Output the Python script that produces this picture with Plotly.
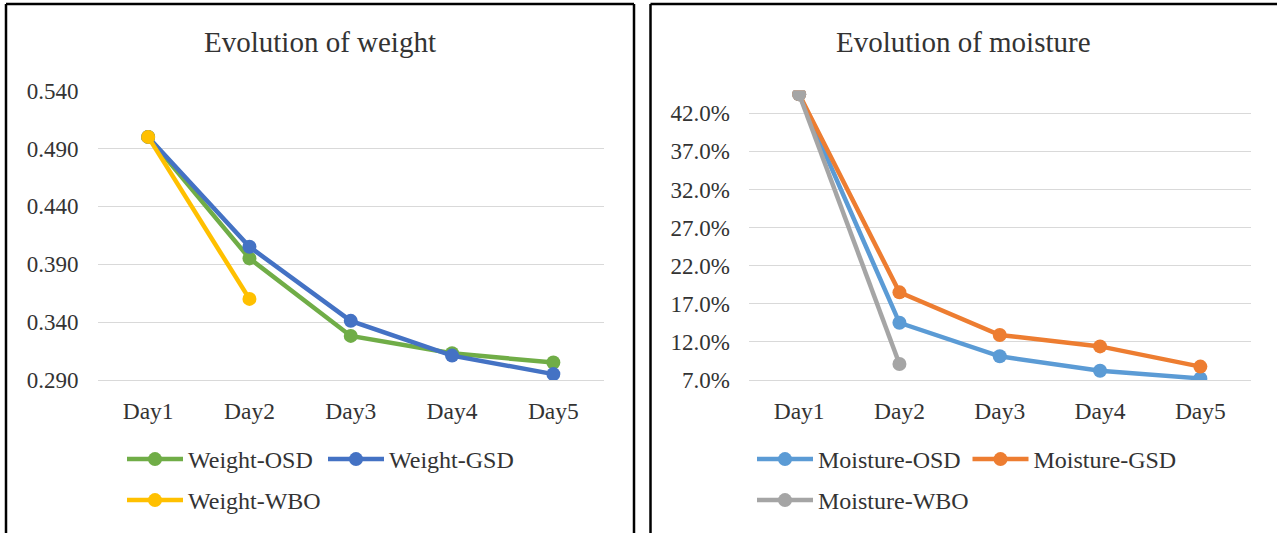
import plotly.graph_objects as go

W, H = 1277, 533

days = ["Day1", "Day2", "Day3", "Day4", "Day5"]

weight_osd = [0.500, 0.395, 0.328, 0.313, 0.305]
weight_gsd = [0.500, 0.405, 0.341, 0.311, 0.295]
weight_wbo = [0.500, 0.360]

moist_osd = [0.445, 0.145, 0.101, 0.082, 0.072]
moist_gsd = [0.445, 0.185, 0.129, 0.114, 0.0875]
moist_wbo = [0.445, 0.091]

weight_ticks = [0.29, 0.34, 0.39, 0.44, 0.49, 0.54]
moist_ticks = [0.07, 0.12, 0.17, 0.22, 0.27, 0.32, 0.37, 0.42]

FONT = "Liberation Serif"
TXT = "#333333"


def px(x):
    return x / W


def py(y):
    return 1 - y / H


fig = go.Figure()

series = [
    ("Weight-OSD", weight_osd, "#70AD47", "x", "y", "legend"),
    ("Weight-GSD", weight_gsd, "#4472C4", "x", "y", "legend2"),
    ("Weight-WBO", weight_wbo, "#FFC000", "x", "y", "legend3"),
    ("Moisture-OSD", moist_osd, "#5B9BD5", "x2", "y2", "legend4"),
    ("Moisture-GSD", moist_gsd, "#ED7D31", "x2", "y2", "legend5"),
    ("Moisture-WBO", moist_wbo, "#A5A5A5", "x2", "y2", "legend6"),
]
for name, vals, col, xa, ya, lg in series:
    fig.add_trace(go.Scatter(
        x=days[:len(vals)], y=vals, name=name, mode="lines+markers",
        line=dict(color=col, width=4.5), marker=dict(color=col, size=14),
        xaxis=xa, yaxis=ya, legend=lg, hoverinfo="x+y"))

ydom = [py(380), py(90.5)]
axis_common = dict(showgrid=False, zeroline=False, showline=True, linecolor="#D9D9D9",
                   linewidth=1, ticks="", tickfont=dict(family=FONT, size=23.5, color=TXT),
                   type="category", range=[-0.5, 4.5], ticklabelstandoff=10,
                   automargin=False)
yaxis_common = dict(showgrid=True, gridcolor="#D9D9D9", gridwidth=1, zeroline=False,
                    showline=False, ticks="", tickfont=dict(family=FONT, size=23, color=TXT),
                    ticklabelstandoff=18, automargin=False)

fig.update_layout(
    template="none",
    width=W, height=H,
    margin=dict(l=0, r=0, t=0, b=0, pad=0, autoexpand=False),
    paper_bgcolor="white", plot_bgcolor="white",
    xaxis=dict(domain=[px(97.5), px(604)], anchor="y", **axis_common),
    yaxis=dict(domain=ydom, anchor="x", range=[0.2899, 0.5401], tickmode="array",
               tickvals=weight_ticks, tickformat=".3f", **yaxis_common),
    xaxis2=dict(domain=[px(749), px(1250.5)], anchor="y2", **axis_common),
    yaxis2=dict(domain=ydom, anchor="x2", range=[0.0699, 0.45], tickmode="array",
                tickvals=moist_ticks, tickformat=".1%", **yaxis_common),
    showlegend=True,
)

leg_font = dict(family=FONT, size=24, color=TXT)
legend_pos = {
    "legend": (127, 460.5),
    "legend2": (328, 460.5),
    "legend3": (127, 501.5),
    "legend4": (757, 460.5),
    "legend5": (972.5, 460.5),
    "legend6": (757, 501.5),
}
for key, (lx, ly) in legend_pos.items():
    fig.update_layout(**{key: dict(
        x=px(lx - 5), y=py(ly - 23.5), xanchor="left", yanchor="top",
        orientation="h", font=leg_font, bgcolor="rgba(0,0,0,0)",
        borderwidth=0, itemwidth=56, itemclick=False, itemdoubleclick=False)})

fig.add_annotation(text="Evolution of weight", x=px(320), y=py(42), xref="paper", yref="paper",
                   showarrow=False, font=dict(family=FONT, size=29, color=TXT),
                   xanchor="center", yanchor="middle")
fig.add_annotation(text="Evolution of moisture", x=px(963), y=py(42), xref="paper", yref="paper",
                   showarrow=False, font=dict(family=FONT, size=29, color=TXT),
                   xanchor="center", yanchor="middle")

border = dict(color="black", width=2.5)
for x0, y0, x1, y1 in [
    (6, 540, 6, 4), (6, 4, 634, 4), (634, 4, 634, 540),
    (650.5, 540, 650.5, 4), (650.5, 4, 1285, 4),
]:
    fig.add_shape(type="line", xref="paper", yref="paper",
                  x0=px(x0), y0=py(y0), x1=px(x1), y1=py(y1), line=border)

fig.write_html("out.html", config={"displayModeBar": False},
               post_script="document.body.style.margin='0';document.body.style.overflow='hidden';")
